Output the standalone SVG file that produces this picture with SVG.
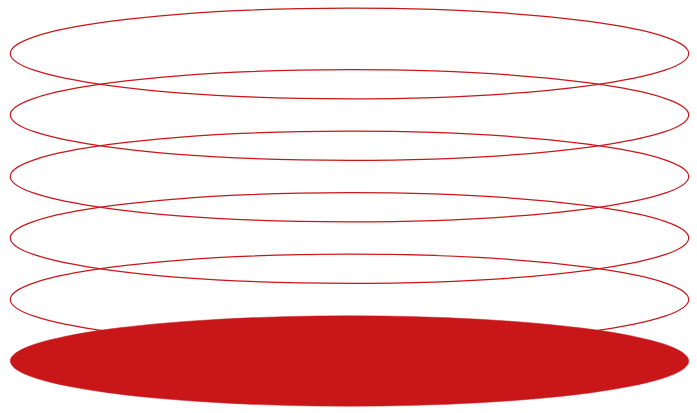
<svg xmlns="http://www.w3.org/2000/svg" width="697" height="413" viewBox="0 0 697 413">
<style>
.ring{fill:none;stroke:#c81619;stroke-width:1.2}
.base{fill:#c81619;stroke:#c81619;stroke-width:0.5}
</style>
<rect width="697" height="413" fill="#ffffff"/>
<g id="layer6"><ellipse class="base" cx="349.5" cy="361" rx="339.2" ry="45.2"/></g>
<g id="layer5"><ellipse class="ring" cx="349.5" cy="299.5" rx="339.2" ry="45.3"/></g>
<g id="layer4"><ellipse class="ring" cx="349.5" cy="238" rx="339.2" ry="45.3"/></g>
<g id="layer3"><ellipse class="ring" cx="349.5" cy="176.5" rx="339.2" ry="45.3"/></g>
<g id="layer2"><ellipse class="ring" cx="349.5" cy="115" rx="339.2" ry="45.3"/></g>
<g id="layer1"><ellipse class="ring" cx="349.5" cy="53.5" rx="339.2" ry="45.3"/></g>
<g id="connectors"></g>
</svg>
